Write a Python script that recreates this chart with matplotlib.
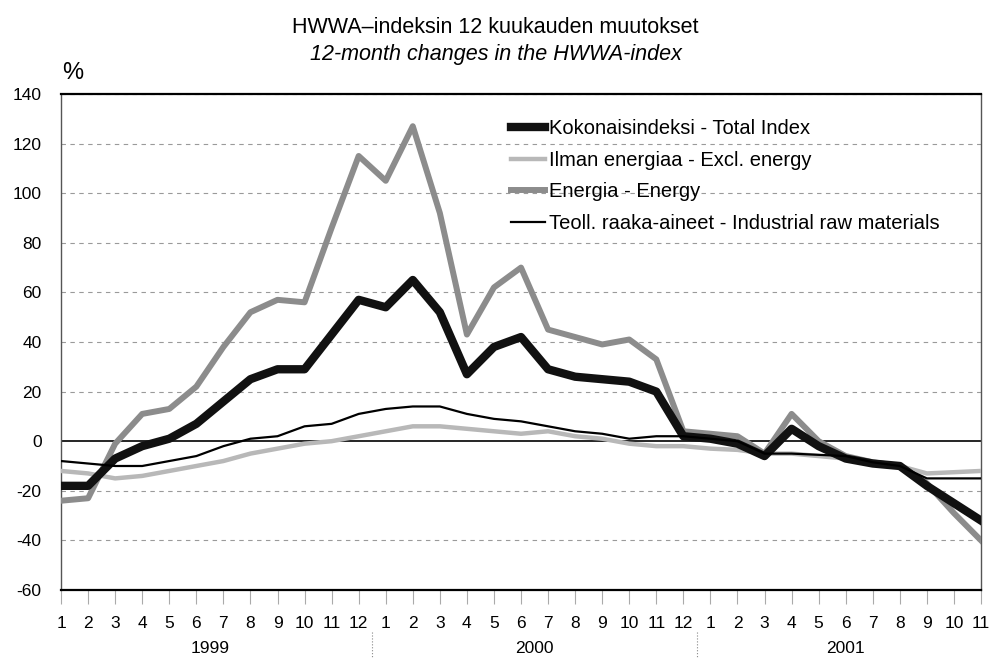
import numpy as np
import matplotlib.pyplot as plt
from matplotlib import transforms

plt.rcParams['font.family'] = ['Liberation Sans', 'DejaVu Sans']
plt.rcParams['axes.unicode_minus'] = False

# months 1/1999 .. 11/2001
month_labels = [str(m) for m in range(1, 13)] * 2 + [str(m) for m in range(1, 12)]
years = ["1999", "2000", "2001"]

total = [-18, -18, -7, -2, 1, 7, 16, 25, 29, 29, 43, 57,
         54, 65, 52, 27, 38, 42, 29, 26, 25, 24, 20, 2,
         1, -1, -6, 5, -2, -7, -9, -10, -18, -25, -32]
excl_energy = [-12, -13, -15, -14, -12, -10, -8, -5, -3, -1, 0, 2,
               4, 6, 6, 5, 4, 3, 4, 2, 1, -1, -2, -2,
               -3, -3.5, -5, -5, -6, -7, -8.5, -10, -13, -12.5, -12]
energy = [-24, -23, -1, 11, 13, 22, 38, 52, 57, 56, 86, 115,
          105, 127, 92, 43, 62, 70, 45, 42, 39, 41, 33, 4,
          3, 2, -5, 11, 0, -6, -8.5, -10, -17, -29, -40]
industrial = [-8, -9, -10, -10, -8, -6, -2, 1, 2, 6, 7, 11,
              13, 14, 14, 11, 9, 8, 6, 4, 3, 1, 2, 2,
              1, 0, -5, -5, -5.5, -6, -8.5, -10, -15, -15, -15]

x = np.arange(len(total))

fig = plt.figure(figsize=(9.91, 6.59), dpi=100)
ax = fig.add_axes([0.0616, 0.1047, 0.9283, 0.7527])

for yv in range(-40, 141, 20):
    if yv != 0:
        ax.axhline(yv, color='#9a9a9a', lw=0.8, ls=(0, (4, 4)), zorder=1)
ax.axhline(0, color='black', lw=1.2, zorder=2)

ax.plot(x, excl_energy, color='#b8b8b8', lw=3.2, zorder=3, solid_joinstyle='round',
        label='Ilman energiaa - Excl. energy')
ax.plot(x, energy, color='#8c8c8c', lw=4.3, zorder=4, solid_joinstyle='round',
        label='Energia - Energy')
ax.plot(x, total, color='#111111', lw=6, zorder=5, solid_joinstyle='round',
        label='Kokonaisindeksi - Total Index')
ax.plot(x, industrial, color='black', lw=1.6, zorder=6,
        label='Teoll. raaka-aineet - Industrial raw materials')

ax.set_xlim(0, len(total) - 1)
ax.set_ylim(-60, 140)
ax.set_yticks(range(-60, 141, 20))
ax.set_xticks(x)
ax.set_xticklabels(month_labels)
ax.tick_params(axis='y', length=0, labelsize=12.5, pad=14)
ax.tick_params(axis='x', length=10, width=0.8, color='#aaaaaa', labelsize=12.5, pad=9)

for s in ['top', 'bottom']:
    ax.spines[s].set_linewidth(1.6)
    ax.spines[s].set_color('black')
for s in ['left', 'right']:
    ax.spines[s].set_linewidth(1.0)
    ax.spines[s].set_color('#555555')

# legend in the original order
h, l = ax.get_legend_handles_labels()
order = [2, 0, 1, 3]
ax.legend([h[i] for i in order], [l[i] for i in order], loc='upper left',
          bbox_to_anchor=(0.48, 0.965), frameon=False, fontsize=14.5,
          handlelength=1.7, handletextpad=0.2, labelspacing=0.62, borderaxespad=0)

# year labels and separators
trans = transforms.blended_transform_factory(ax.transData, ax.transAxes)
for xc, yr in zip([5.5, 17.5, 29], years):
    ax.text(xc, -0.118, yr, transform=trans, ha='center', va='center', fontsize=12.5)
for xs in [11.5, 23.5]:
    ax.plot([xs, xs], [-0.085, -0.14], transform=trans, color='#888888',
            lw=0.8, ls=':', clip_on=False)

fig.text(0.5, 0.958, 'HWWA–indeksin 12 kuukauden muutokset', ha='center',
         va='center', fontsize=15.5)
fig.text(0.5, 0.918, '12-month changes in the HWWA-index', ha='center',
         va='center', fontsize=15.5, style='italic')
fig.text(0.073, 0.889, '%', ha='center', va='center', fontsize=17)

fig.savefig('out.png', dpi=100)
